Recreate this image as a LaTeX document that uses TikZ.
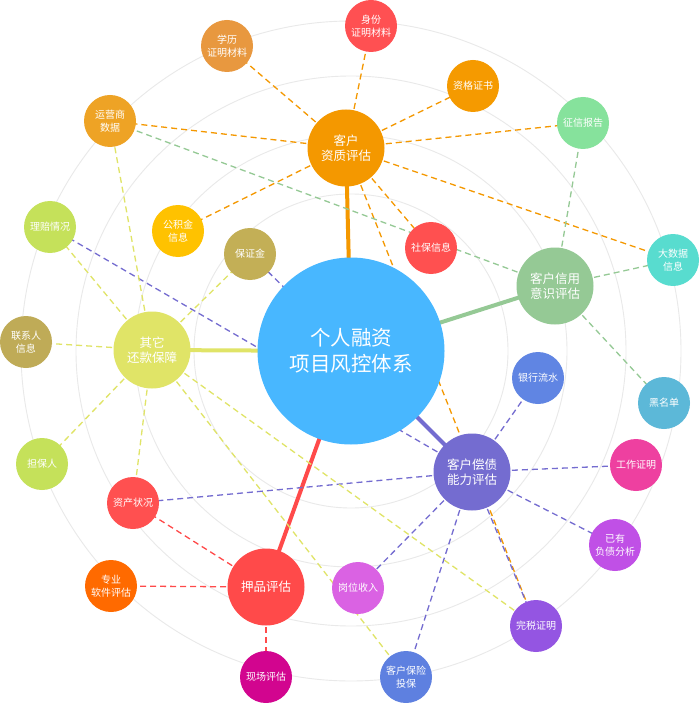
\documentclass[tikz,border=0pt]{standalone}
\usepackage{fontspec}
\newfontfamily\cjk{Noto Sans CJK SC}
\pgfdeclarelayer{paper}
\pgfdeclarelayer{rings}
\pgfdeclarelayer{links}
\pgfsetlayers{paper,rings,links,main}
\definecolor{ringgray}{HTML}{E9E9E9}
\definecolor{cmain}{HTML}{48B7FF}
\definecolor{czz}{HTML}{F49800}
\definecolor{cxy}{HTML}{95C995}
\definecolor{cch}{HTML}{746CD0}
\definecolor{cyp}{HTML}{FF4A4A}
\definecolor{cqt}{HTML}{E0E467}
\definecolor{cxl}{HTML}{E8983F}
\definecolor{csf}{HTML}{FF5052}
\definecolor{czg}{HTML}{F59A00}
\definecolor{czx}{HTML}{86E29C}
\definecolor{cdsj}{HTML}{58DCCF}
\definecolor{csb}{HTML}{FF5050}
\definecolor{cyys}{HTML}{EEA325}
\definecolor{cgjj}{HTML}{FFC200}
\definecolor{cbzj}{HTML}{C3AF56}
\definecolor{clp}{HTML}{C5E15A}
\definecolor{clxr}{HTML}{BFAB57}
\definecolor{cdbr}{HTML}{C5E15A}
\definecolor{czc}{HTML}{FF5050}
\definecolor{czy}{HTML}{FF6A00}
\definecolor{cxc}{HTML}{D2058F}
\definecolor{cgw}{HTML}{DA62E3}
\definecolor{cbx}{HTML}{5E80E0}
\definecolor{cws}{HTML}{9455E2}
\definecolor{cfz}{HTML}{C050E6}
\definecolor{cgz}{HTML}{EE40A0}
\definecolor{chmd}{HTML}{5CB8D8}
\definecolor{cyh}{HTML}{6085E3}
\begin{document}
\begin{tikzpicture}[x=1pt,y=-1pt,
  ring/.style={draw=ringgray,line width=0.9pt},
  hubline/.style={line width=4pt},
  dl/.style={dash pattern=on 6pt off 4pt,line width=1.3pt},
  mainnode/.style={circle,inner sep=0pt,minimum size=187pt,fill=cmain,text=white,align=center,font=\cjk\fontsize{20.5}{26}\selectfont},
  hub/.style={circle,inner sep=0pt,minimum size=77pt,text=white,align=center,font=\cjk\fontsize{12.5}{15.5}\selectfont},
  leaf/.style={circle,inner sep=0pt,minimum size=52pt,text=white,align=center,font=\cjk\fontsize{10}{12.5}\selectfont}]
\useasboundingbox (0,0) rectangle (699,703);
\begin{pgfonlayer}{paper}
\fill[white] (0,0) rectangle (699,703);
\end{pgfonlayer}

% main and hubs
\node[mainnode] (m) at (351,351) {个人融资\\项目风控体系};
\node[hub,fill=czz] (zz) at (346,148) {客户\\资质评估};
\node[hub,fill=cxy] (xy) at (555,286) {客户信用\\意识评估};
\node[hub,fill=cch] (ch) at (472,472) {客户偿债\\能力评估};
\node[hub,fill=cyp] (yp) at (266,587) {押品评估};
\node[hub,fill=cqt] (qt) at (152,350) {其它\\还款保障};

% leaves
\node[leaf,fill=cxl] (xl) at (227,46) {学历\\证明材料};
\node[leaf,fill=csf] (sf) at (371,26) {身份\\证明材料};
\node[leaf,fill=czg] (zg) at (473,86) {资格证书};
\node[leaf,fill=czx] (zx) at (583,123) {征信报告};
\node[leaf,fill=cdsj] (dsj) at (673,260) {大数据\\信息};
\node[leaf,fill=csb] (sb) at (431,248) {社保信息};
\node[leaf,fill=cyys] (yys) at (110,121) {运营商\\数据};
\node[leaf,fill=cgjj] (gjj) at (178,231) {公积金\\信息};
\node[leaf,fill=cbzj] (bzj) at (250,254) {保证金};
\node[leaf,fill=clp] (lp) at (50,227) {理赔情况};
\node[leaf,fill=clxr] (lxr) at (26,342) {联系人\\信息};
\node[leaf,fill=cdbr] (dbr) at (42,464) {担保人};
\node[leaf,fill=czc] (zc) at (133,503) {资产状况};
\node[leaf,fill=czy] (zy) at (111,586) {专业\\软件评估};
\node[leaf,fill=cxc] (xc) at (266,677) {现场评估};
\node[leaf,fill=cgw] (gw) at (358,588) {岗位收入};
\node[leaf,fill=cbx] (bx) at (406,677) {客户保险\\投保};
\node[leaf,fill=cws] (ws) at (536,626) {完税证明};
\node[leaf,fill=cfz] (fz) at (615,545) {已有\\负债分析};
\node[leaf,fill=cgz] (gz) at (636,465) {工作证明};
\node[leaf,fill=chmd] (hmd) at (664,403) {黑名单};
\node[leaf,fill=cyh] (yh) at (538,378) {银行流水};

\begin{pgfonlayer}{rings}
\foreach \r in {157,216,275,330} \draw[ring] (m.center) circle[radius=\r];
\end{pgfonlayer}

\begin{pgfonlayer}{links}
% thick hub connectors
\draw[hubline,czz] (m.center) -- (zz.center);
\draw[hubline,cxy] (m.center) -- (xy.center);
\draw[hubline,cch] (m.center) -- (ch.center);
\draw[hubline,cyp] (m.center) -- (yp.center);
\draw[hubline,cqt] (m.center) -- (qt.center);
% orange
\foreach \t in {xl,sf,zg,zx,dsj,sb,yys,gjj,ws}
  \draw[dl,czz] (zz.center) -- (\t.center);
% green
\foreach \t in {yys,zx,dsj,hmd}
  \draw[dl,cxy] (xy.center) -- (\t.center);
% purple
\foreach \t in {yh,gz,fz,ws,bx,gw,zc,lp,bzj}
  \draw[dl,cch] (ch.center) -- (\t.center);
% yellow
\foreach \t in {yys,lp,bzj,lxr,dbr,zc,bx,ws}
  \draw[dl,cqt] (qt.center) -- (\t.center);
% red
\foreach \t in {zc,zy,xc}
  \draw[dl,cyp] (yp.center) -- (\t.center);
\end{pgfonlayer}
\end{tikzpicture}
\end{document}
